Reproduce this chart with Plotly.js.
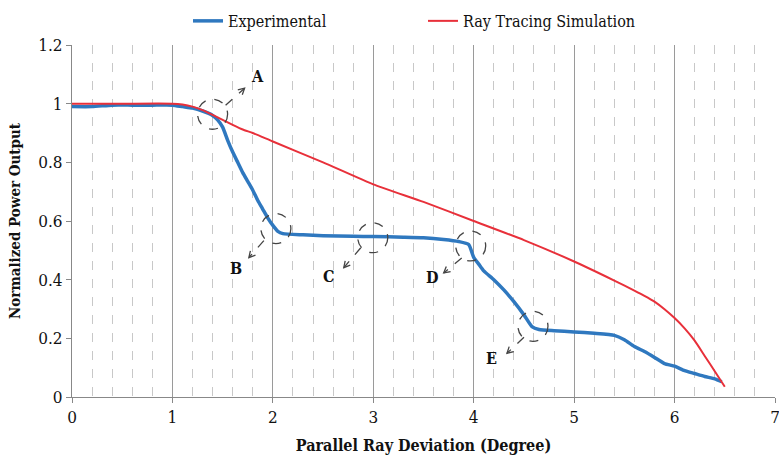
<!DOCTYPE html>
<html><head><meta charset="utf-8">
<script src="https://cdn.plot.ly/plotly-3.0.1.min.js"></script>
<style>html,body{margin:0;padding:0;background:#fff}#chart{width:779px;height:459px}</style>
</head><body><div id="chart"></div>
<script>
const expX = [0, 0.2, 0.4, 0.6, 0.8, 1.0, 1.1, 1.2, 1.3, 1.4, 1.45, 1.5, 1.55, 1.6, 1.65, 1.7, 1.75, 1.8, 1.85, 1.9, 1.95, 2.0, 2.05, 2.1, 2.3, 2.5, 2.8, 3.0, 3.3, 3.5, 3.7, 3.85, 3.95, 4.0, 4.05, 4.1, 4.2, 4.3, 4.4, 4.5, 4.58, 4.65, 4.8, 5.0, 5.2, 5.4, 5.5, 5.6, 5.7, 5.8, 5.9, 6.0, 6.1, 6.2, 6.3, 6.4, 6.47];
const expY = [0.99, 0.99, 0.995, 0.995, 0.995, 0.995, 0.99, 0.985, 0.975, 0.96, 0.945, 0.92, 0.875, 0.835, 0.8, 0.765, 0.735, 0.705, 0.67, 0.64, 0.61, 0.585, 0.565, 0.557, 0.553, 0.55, 0.548, 0.547, 0.545, 0.543, 0.537, 0.53, 0.52, 0.476, 0.453, 0.43, 0.4, 0.365, 0.325, 0.28, 0.24, 0.23, 0.226, 0.222, 0.217, 0.21, 0.195, 0.172, 0.155, 0.135, 0.114, 0.105, 0.09, 0.08, 0.07, 0.062, 0.052];
const simX = [0, 0.5, 1.0, 1.1, 1.2, 1.3, 1.4, 1.5, 1.6, 1.7, 1.8, 2.0, 2.5, 3.0, 3.5, 4.0, 4.5, 5.0, 5.4, 5.6, 5.7, 5.8, 5.9, 6.0, 6.1, 6.2, 6.3, 6.4, 6.5];
const simY = [1.0, 1.0, 1.0, 0.997, 0.99, 0.978, 0.962, 0.945, 0.928, 0.912, 0.9, 0.871, 0.8, 0.725, 0.665, 0.6, 0.535, 0.462, 0.397, 0.363, 0.345, 0.325, 0.299, 0.269, 0.234, 0.192, 0.14, 0.088, 0.035];
const seriesNames = ["Experimental", "Ray Tracing Simulation"];
const markLabels = ["A", "B", "C", "D", "E"];
const markX = [1.40, 2.03, 2.995, 3.97, 4.59];
const markY = [0.964, 0.574, 0.543, 0.515, 0.241];
const labelX = [1.85, 1.63, 2.55, 3.58, 4.18];
const labelY = [1.092, 0.437, 0.41, 0.407, 0.132];
// arrow vectors in pixels (start, tip), y up
const arrowVec = [[13,9,32,26],[-12,-12,-27,-29],[-12,-10,-29,-30],[-9,-12,-27,-27],[-9,-11,-26,-27]];

const serif = "DejaVu Serif Condensed";
const traces = [
  {x: expX, y: expY, name: seriesNames[0], mode: "lines", line: {color: "#2f78bf", width: 3.5, shape: "spline", smoothing: 0.5}},
  {x: simX, y: simY, name: seriesNames[1], mode: "lines", line: {color: "#e8303a", width: 2, shape: "spline", smoothing: 0.5}}
];
const shapes = [];
const annotations = [];
for (let i = 0; i < markLabels.length; i++) {
  shapes.push({type: "circle", xref: "x", yref: "y", xsizemode: "pixel", ysizemode: "pixel",
    xanchor: markX[i], yanchor: markY[i], x0: -15, x1: 15, y0: -15, y1: 15,
    line: {color: "#444", width: 1.3, dash: "dash"}});
  const [sx, sy, tx, ty] = arrowVec[i];
  const ang = Math.atan2(ty - sy, tx - sx);
  const h = 7, sp = 0.5;
  const h1x = tx - h * Math.cos(ang - sp), h1y = ty - h * Math.sin(ang - sp);
  const h2x = tx - h * Math.cos(ang + sp), h2y = ty - h * Math.sin(ang + sp);
  shapes.push({type: "path", xref: "x", yref: "y", xsizemode: "pixel", ysizemode: "pixel",
    xanchor: markX[i], yanchor: markY[i],
    path: `M${sx},${sy} L${tx},${ty}`, line: {color: "#444", width: 1.3, dash: "dash"}});
  shapes.push({type: "path", xref: "x", yref: "y", xsizemode: "pixel", ysizemode: "pixel",
    xanchor: markX[i], yanchor: markY[i],
    path: `M${h1x.toFixed(1)},${h1y.toFixed(1)} L${tx},${ty} L${h2x.toFixed(1)},${h2y.toFixed(1)}`,
    line: {color: "#444", width: 1.3}});
  annotations.push({x: labelX[i], y: labelY[i], xref: "x", yref: "y", text: "<b>" + markLabels[i] + "</b>",
    showarrow: false, font: {family: serif, size: 16, color: "#111"}});
}

const layout = {
  width: 779, height: 459,
  margin: {l: 72, r: 4, t: 43, b: 62},
  paper_bgcolor: "#fff", plot_bgcolor: "#fff",
  font: {family: serif, color: "#111"},
  showlegend: true,
  legend: {orientation: "h", x: 0.165, xanchor: "left", y: 1.02, yanchor: "bottom",
    font: {family: serif, size: 16, color: "#111"}, entrywidth: 190, entrywidthmode: "pixels"},
  xaxis: {range: [0, 7], dtick: 1, tick0: 0, showgrid: true, gridcolor: "#9a9a9a", gridwidth: 1,
    zeroline: false, showline: true, linecolor: "#888", linewidth: 1,
    ticks: "outside", ticklen: 5, tickcolor: "#888", ticklabeloverflow: "allow",
    tickfont: {family: serif, size: 17, color: "#111"},
    minor: {dtick: 0.2, tick0: 0, showgrid: true, gridcolor: "#c8c8c8", griddash: "dash", gridwidth: 1},
    title: {text: "<b>Parallel Ray Deviation (Degree)</b>", font: {family: serif, size: 16, color: "#111"}, standoff: 13}},
  yaxis: {range: [0, 1.2], dtick: 0.2, tick0: 0, showgrid: false, zeroline: false,
    showline: true, linecolor: "#888", linewidth: 1, ticks: "outside", ticklen: 5, tickcolor: "#888",
    tickfont: {family: serif, size: 17, color: "#111"},
    title: {text: "<b>Normalized Power Output</b>", font: {family: serif, size: 15, color: "#111"}, standoff: 14}},
  shapes: shapes,
  annotations: annotations
};
Plotly.newPlot("chart", traces, layout, {displayModeBar: false, staticPlot: true});
</script></body></html>
